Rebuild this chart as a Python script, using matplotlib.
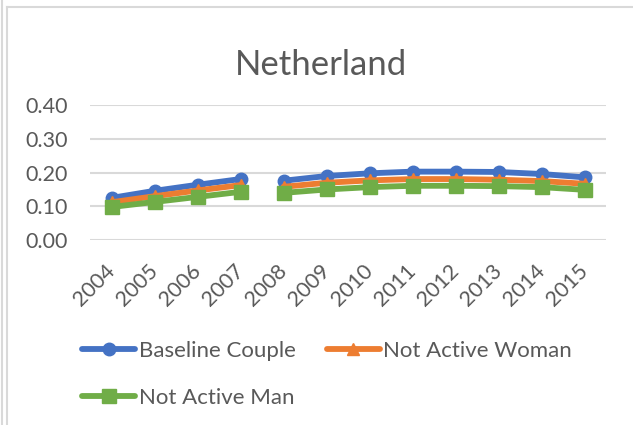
import numpy as np
import matplotlib
matplotlib.use("Agg")
from matplotlib import pyplot as plt
from matplotlib.lines import Line2D

# data (no value shown for the 2007-2008 link)
years = ['2004', '2005', '2006', '2007', '2008', '2009',
         '2010', '2011', '2012', '2013', '2014', '2015']
baseline_couple = [0.125, 0.146, 0.164, 0.181, 0.176, 0.190,
                   0.198, 0.203, 0.203, 0.202, 0.196, 0.186]
not_active_woman = [0.112, 0.130, 0.147, 0.163, 0.158, 0.170,
                    0.177, 0.181, 0.181, 0.179, 0.175, 0.167]
not_active_man = [0.098, 0.113, 0.128, 0.143, 0.140, 0.150,
                  0.157, 0.161, 0.161, 0.160, 0.157, 0.149]
series_names = ['Baseline Couple', 'Not Active Woman', 'Not Active Man']
yticks = [0.0, 0.1, 0.2, 0.3, 0.4]
gap_after = 3  # line is broken between 2007 and 2008

plt.rcParams['font.family'] = ['Lato', 'DejaVu Sans']
txt = '#595959'
grid = '#D9D9D9'

fig = plt.figure(figsize=(6.33, 4.25), dpi=100)
W, H = 633, 425
ax = fig.add_axes([90/W, (H-240)/H, 516/W, 134.7/H])

x = np.arange(len(years))
styles = [('#4472C4', 'o', 9), ('#ED7D31', '^', 8), ('#70AD47', 's', 10)]
handles = []
for vals, name, (col, mk, ms) in zip([baseline_couple, not_active_woman, not_active_man],
                                     series_names, styles):
    vals = np.array(vals)
    for seg in (slice(0, gap_after+1), slice(gap_after+1, None)):
        ax.plot(x[seg], vals[seg], color=col, lw=4.2, marker=mk, ms=ms,
                solid_capstyle='round', solid_joinstyle='round', zorder=3)
    handles.append(Line2D([], [], color=col, lw=4.2, marker=mk, ms=ms,
                          solid_capstyle='round', label=name))

ax.set_xlim(-0.5, len(years)-0.5)
ax.set_ylim(0, 0.4)
ax.set_yticks(yticks)
ax.set_yticklabels(['%.2f' % v for v in yticks])
ax.set_xticks(x)
ax.set_xticklabels(years, rotation=45, ha='right', va='center', rotation_mode='anchor')
ax.tick_params(length=0, labelsize=15.5, colors=txt)
ax.tick_params(axis='y', pad=16)
ax.tick_params(axis='x', pad=20)
ax.grid(axis='y', color=grid, lw=1.5)
ax.set_axisbelow(True)
for s in ax.spines.values():
    s.set_visible(False)

fig.text(321/W, (H-75)/H, 'Netherland', ha='center', va='baseline',
         fontsize=25, color=txt)

# legend fills column by column: put Woman in the 2nd column of row 1
leg = fig.legend(handles=[handles[0], handles[2], handles[1]], loc='upper left',
                 bbox_to_anchor=(62/W, (H-321)/H),
                 ncol=2, frameon=False, fontsize=16, handlelength=2.4,
                 handletextpad=0.15, columnspacing=1.4, labelspacing=1.22,
                 labelcolor=txt)

# chart area border
fig.add_artist(Line2D([1.5/W, 1.5/W], [0, 1], color=grid, lw=1.5))
fig.add_artist(Line2D([7.5/W, 7.5/W], [0, (H-7)/H], color=grid, lw=1.5))
fig.add_artist(Line2D([7.5/W, 1], [(H-7)/H, (H-7)/H], color=grid, lw=1.5))

fig.savefig('out.png', dpi=100)
